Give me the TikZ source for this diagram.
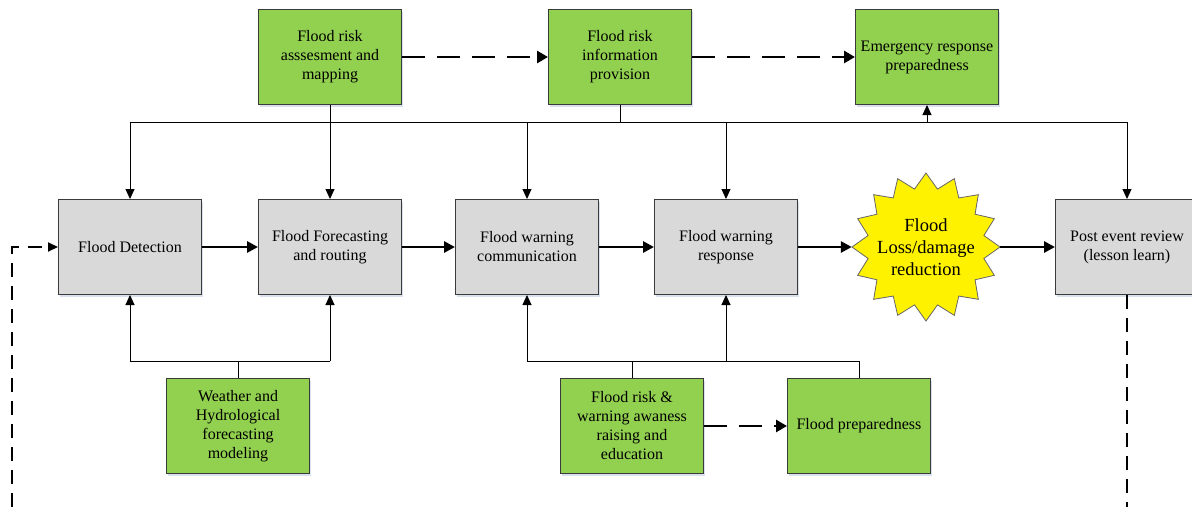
\documentclass[tikz,border=0pt]{standalone}
\usepackage{fontspec}
\setmainfont{Liberation Serif}
\usetikzlibrary{arrows.meta,shadows,calc}
\definecolor{boxgreen}{HTML}{92D050}
\definecolor{boxgray}{HTML}{D9D9D9}
\definecolor{boxline}{HTML}{3A3A3A}
\definecolor{shadowc}{HTML}{C8D4E6}
\tikzset{
  basebox/.style={rectangle, draw=boxline, line width=1pt, minimum width=143pt, minimum height=95pt,
    inner sep=2pt, align=center, font=\fontsize{16}{19}\selectfont,
    drop shadow={shadow xshift=1.5pt, shadow yshift=-2pt, fill=shadowc, opacity=0.7}},
  gbox/.style={basebox, fill=boxgreen},
  gybox/.style={basebox, fill=boxgray},
  thinarrow/.style={draw=black, line width=1pt, -{Triangle[length=10pt,width=9pt]}},
  thinline/.style={draw=black, line width=1pt},
  mainarrow/.style={draw=black, line width=2.8pt, -{Triangle[length=11pt,width=11pt]}},
  dasharrow/.style={draw=black, line width=2.8pt, dash pattern=on 23pt off 12pt, -{Triangle[length=11pt,width=12pt]}},
  loopline/.style={draw=black, line width=2pt, dash pattern=on 14pt off 9pt},
  looparrow/.style={loopline, -{Triangle[length=10pt,width=9pt]}},
  starfill/.style={fill=yellow, draw=gray!80!black, line width=0.8pt}
}
\begin{document}
\begin{tikzpicture}[x=1pt,y=-1pt]
\useasboundingbox (0,0) rectangle (1192,507);
% top row
\node[gbox] (assess) at (330,57) {Flood risk\\asssesment and\\mapping};
\node[gbox] (info) at (620,57) {Flood risk\\information\\provision};
\node[gbox] (emerg) at (927,57) {Emergency response\\preparedness};
% middle row
\node[gybox] (det) at (130,247) {Flood Detection};
\node[gybox] (fore) at (330,247) {Flood Forecasting\\and routing};
\node[gybox] (comm) at (527,247) {Flood warning\\communication};
\node[gybox] (resp) at (726,247) {Flood warning\\response};
\node[gybox] (post) at (1127,247) {Post event review\\(lesson learn)};
% star
\draw[starfill, shift={(926,247)}] (0:74pt)
  \foreach \i [evaluate=\i as \r using {isodd(\i)?59:74}] in {1,...,31} { -- (\i*11.25:\r pt) } -- cycle;
\node[circle, minimum size=148pt, inner sep=0pt, align=center, font=\fontsize{18.5}{22}\selectfont] (star) at (926,247) {Flood\\Loss/damage\\reduction};
% bottom row
\node[gbox] (weather) at (238,426) {Weather and\\Hydrological\\forecasting\\modeling};
\node[gbox] (aware) at (632,426) {Flood risk \&\\warning awaness\\raising and\\education};
\node[gbox] (prep) at (859,426) {Flood preparedness};
% buses
\coordinate (bus) at (0,122);
\coordinate (lbus) at (0,361);
\coordinate (lb) at (12,507);
\coordinate (rb) at (0,507);
% top bus
\draw[thinarrow] (assess.south) -- (fore.north);
\draw[thinline] (info.south) -- (info.south |- bus);
\draw[thinline] (det.north |- bus) -- (post.north |- bus);
\draw[thinarrow] (det.north |- bus) -- (det.north);
\draw[thinarrow] (comm.north |- bus) -- (comm.north);
\draw[thinarrow] (resp.north |- bus) -- (resp.north);
\draw[thinarrow] (post.north |- bus) -- (post.north);
\draw[thinarrow] (emerg.south |- bus) -- (emerg.south);
% bottom buses
\draw[thinline] (weather.north) -- (weather.north |- lbus);
\draw[thinline] (det.south |- lbus) -- (fore.south |- lbus);
\draw[thinarrow] (det.south |- lbus) -- (det.south);
\draw[thinarrow] (fore.south |- lbus) -- (fore.south);
\draw[thinline] (aware.north) -- (aware.north |- lbus);
\draw[thinline] (comm.south |- lbus) -- (prep.north |- lbus) -- (prep.north);
\draw[thinarrow] (comm.south |- lbus) -- (comm.south);
\draw[thinarrow] (resp.south |- lbus) -- (resp.south);
% main flow
\draw[mainarrow] (det.east) -- (fore.west);
\draw[mainarrow] (fore.east) -- (comm.west);
\draw[mainarrow] (comm.east) -- (resp.west);
\draw[mainarrow] (resp.east) -- (star.west);
\draw[mainarrow] (star.east) -- (post.west);
% dashed
\draw[dasharrow] (assess.east) -- (info.west);
\draw[dasharrow] (info.east) -- (emerg.west);
\draw[dasharrow] (aware.east) -- (prep.west);
\draw[looparrow] (lb) |- (det.west);
\draw[loopline] (post.south) -- (post.south |- rb);
\end{tikzpicture}
\end{document}
